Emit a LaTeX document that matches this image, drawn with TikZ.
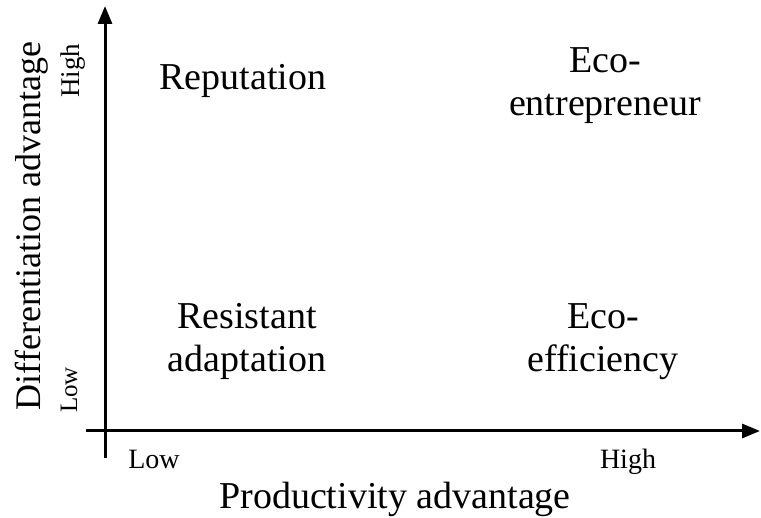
\documentclass[tikz,border=0pt]{standalone}
\usepackage{fontspec}
\setmainfont{Liberation Serif}
\usetikzlibrary{arrows.meta}
\begin{document}
\begin{tikzpicture}[x=1pt,y=-1pt,
  axisline/.style={line width=3pt,-{Triangle[length=18pt,width=14pt]}},
  quadlabel/.style={inner sep=0pt,align=center,font=\fontsize{38}{43}\selectfont,anchor=base},
  ticklabel/.style={inner sep=0pt,font=\fontsize{28}{30}\selectfont,anchor=base},
  axislabel/.style={inner sep=0pt,font=\fontsize{38}{42}\selectfont,anchor=base}]
\useasboundingbox (0,0) rectangle (761,518);
\coordinate (ybot) at (105,458);
\coordinate (ytop) at (105,6);
\coordinate (xleft) at (86,431);
\coordinate (xright) at (760,431);
\draw[axisline] (ybot) -- (ytop);
\draw[axisline] (xleft) -- (xright);
\node[quadlabel] (rep) at (243,90) {Reputation};
\node[quadlabel] (ecoent) at (605,116) {Eco-\\entrepreneur};
\node[quadlabel] (resad) at (247,372) {Resistant\\adaptation};
\node[quadlabel] (ecoeff) at (603,372) {Eco-\\efficiency};
\node[ticklabel] (xlow) at (154,469) {Low};
\node[ticklabel] (xhigh) at (628,469) {High};
\node[ticklabel,rotate=90,font=\fontsize{25}{28}\selectfont] (ylow) at (77,390) {Low};
\node[ticklabel,rotate=90,font=\fontsize{27}{28}\selectfont] (yhigh) at (79,71) {High};
\node[axislabel] (xlab) at (395,509) {Productivity advantage};
\node[axislabel,rotate=90,font=\fontsize{36}{40}\selectfont] (ylab) at (40,226) {Differentiation advantage};
\end{tikzpicture}
\end{document}
